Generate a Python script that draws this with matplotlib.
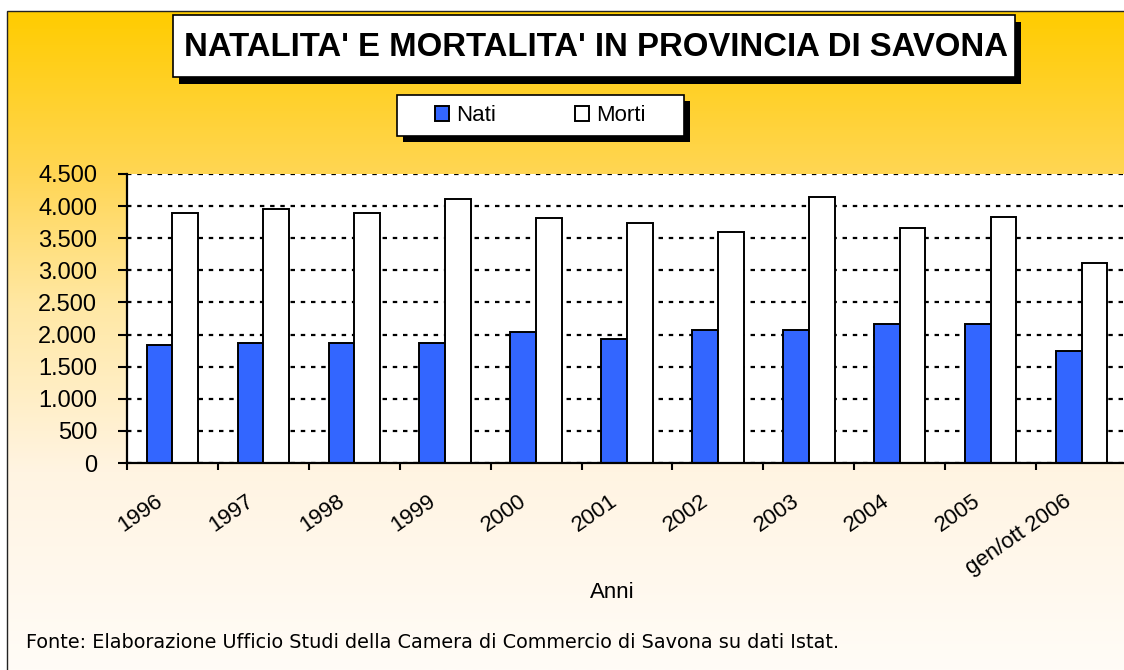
import numpy as np
import matplotlib
matplotlib.use("Agg")
import matplotlib.pyplot as plt
from matplotlib.patches import Rectangle
from matplotlib.colors import LinearSegmentedColormap
import matplotlib.transforms as mtransforms

anni = ['1996', '1997', '1998', '1999', '2000', '2001', '2002', '2003',
        '2004', '2005', 'gen/ott 2006']
nati = [1845, 1876, 1876, 1876, 2037, 1938, 2068, 2068, 2162, 2162, 1746]
morti = [3892, 3949, 3892, 4110, 3819, 3731, 3601, 4147, 3663, 3825, 3118]
yticks = [0, 500, 1000, 1500, 2000, 2500, 3000, 3500, 4000, 4500]
ytick_labels = ['0', '500', '1.000', '1.500', '2.000', '2.500', '3.000',
                '3.500', '4.000', '4.500']

plt.rcParams['font.family'] = ['Liberation Sans', 'DejaVu Sans']

W, H = 1124, 670
fig = plt.figure(figsize=(W / 100, H / 100), dpi=100)
fig.patch.set_facecolor('white')


def fx(x):
    return x / W


def fy(y):
    return 1 - y / H


# background gradient frame
bg = fig.add_axes([fx(7), 0, 1 - fx(7), fy(11)], zorder=-10)
cmap = LinearSegmentedColormap.from_list('bg', [
    (0.0, (255 / 255, 204 / 255, 0 / 255)),
    (0.25, (255 / 255, 214 / 255, 85 / 255)),
    (0.45, (255 / 255, 232 / 255, 165 / 255)),
    (0.70, (255 / 255, 244 / 255, 226 / 255)),
    (1.0, (255 / 255, 252 / 255, 247 / 255)),
])
grad = np.linspace(0, 1, 256).reshape(-1, 1)
bg.imshow(grad, aspect='auto', cmap=cmap, extent=[0, 1, 0, 1], origin='upper')
bg.set_xlim(0, 1)
bg.set_ylim(0, 1)
bg.axis('off')
fig.add_artist(Rectangle((fx(7), -0.01), 1.0, fy(11) + 0.01,
                         transform=fig.transFigure, fill=False,
                         edgecolor='#222222', lw=1.0, zorder=-5))

# main axes
ax = fig.add_axes([fx(127), fy(463), 1000 / W, 289 / H])
ax.set_facecolor('white')
x = np.arange(len(anni))
w = 0.283
b1 = ax.bar(x - w / 2, nati, w, color='#3366FF', edgecolor='black',
            lw=1.4, label='Nati', zorder=3)
b2 = ax.bar(x + w / 2, morti, w, color='white', edgecolor='black',
            lw=1.4, label='Morti', zorder=3)
ax.set_xlim(-0.5, len(anni) - 0.5)
ax.set_ylim(0, 4500)
ax.set_yticks(yticks)
ax.set_yticklabels(ytick_labels, fontsize=17)
ax.grid(axis='y', color='black', linestyle=(0, (2, 2.6)), lw=1.6, zorder=1)
ax.set_axisbelow(True)
for s in ['top', 'right']:
    ax.spines[s].set_visible(False)
for s in ['left', 'bottom']:
    ax.spines[s].set_linewidth(1.6)
    ax.spines[s].set_zorder(5)
ax.tick_params(axis='y', direction='out', length=6.5, width=1.5, pad=15)
ax.set_xticks(x)
ax.set_xticklabels(anni, fontsize=16, rotation=35, ha='right', va='top',
                   rotation_mode='anchor')
ax.tick_params(axis='x', which='major', length=0, pad=20)
ax.set_xticks(np.arange(-0.5, len(anni), 1), minor=True)
ax.tick_params(axis='x', which='minor', direction='out', length=5, width=1.5)
off = mtransforms.ScaledTranslation(-18 / 100, 0, fig.dpi_scale_trans)
for lab in ax.get_xticklabels():
    lab.set_transform(lab.get_transform() + off)

fig.text(fx(612), fy(593), 'Anni', fontsize=16, ha='center', va='center')
fig.text(fx(26), fy(647.5), 'Fonte: Elaborazione Ufficio Studi della Camera di '
         'Commercio di Savona su dati Istat.', fontsize=13.9, ha='left',
         va='baseline', family=['DejaVu Sans'])

# title box
tx0, ty0, tx1, ty1 = 173, 15, 1015, 77
fig.add_artist(Rectangle((fx(tx0 + 6), fy(ty1 + 7)), fx(tx1 - tx0), (ty1 - ty0) / H,
                         transform=fig.transFigure, facecolor='black',
                         edgecolor='none', zorder=1))
fig.add_artist(Rectangle((fx(tx0), fy(ty1)), fx(tx1 - tx0), (ty1 - ty0) / H,
                         transform=fig.transFigure, facecolor='white',
                         edgecolor='black', lw=1.2, zorder=2))
fig.text(fx(596), fy((ty0 + ty1) / 2 + 1),
         "NATALITA' E MORTALITA' IN PROVINCIA DI SAVONA", fontsize=23.7,
         fontweight='bold', ha='center', va='center', zorder=3)

# legend box
lx0, ly0, lx1, ly1 = 397, 95, 684, 136
fig.add_artist(Rectangle((fx(lx0 + 6), fy(ly1 + 6)), fx(lx1 - lx0), (ly1 - ly0) / H,
                         transform=fig.transFigure, facecolor='black',
                         edgecolor='none', zorder=1))
fig.add_artist(Rectangle((fx(lx0), fy(ly1)), fx(lx1 - lx0), (ly1 - ly0) / H,
                         transform=fig.transFigure, facecolor='white',
                         edgecolor='black', lw=1.2, zorder=2))
leg = fig.legend(handles=[b1, b2], labels=['Nati', 'Morti'], ncol=2,
                 loc='center', bbox_to_anchor=(fx(540), fy(115.5)),
                 frameon=False, fontsize=16, handlelength=0.65,
                 handleheight=0.65, handletextpad=0.3, columnspacing=3.55)
leg.set_zorder(4)

fig.savefig('out.png', dpi=100)
